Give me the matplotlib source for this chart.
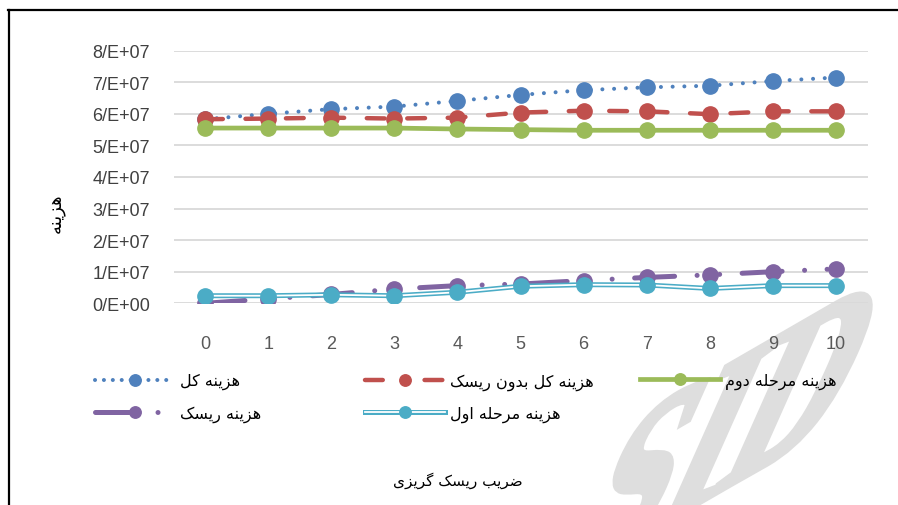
import numpy as np
import matplotlib

matplotlib.use("Agg")
import matplotlib.pyplot as plt  # noqa: E402
from matplotlib.lines import Line2D  # noqa: E402
from matplotlib.legend_handler import HandlerTuple  # noqa: E402
from matplotlib.textpath import TextPath  # noqa: E402
from matplotlib.patches import PathPatch  # noqa: E402
from matplotlib.font_manager import FontProperties  # noqa: E402
from matplotlib.transforms import Affine2D  # noqa: E402
from matplotlib.ticker import FuncFormatter  # noqa: E402

# risk aversion coefficient
x_vals = [0, 1, 2, 3, 4, 5, 6, 7, 8, 9, 10]
total_cost = [5.83e7, 6.00e7, 6.15e7, 6.23e7, 6.41e7, 6.60e7, 6.75e7, 6.84e7, 6.89e7, 7.04e7, 7.15e7]
total_no_risk = [5.83e7, 5.85e7, 5.88e7, 5.85e7, 5.88e7, 6.04e7, 6.10e7, 6.08e7, 5.99e7, 6.08e7, 6.08e7]
stage2_cost = [5.55e7, 5.55e7, 5.55e7, 5.55e7, 5.52e7, 5.50e7, 5.48e7, 5.48e7, 5.48e7, 5.48e7, 5.48e7]
risk_cost = [0.00e7, 0.14e7, 0.28e7, 0.45e7, 0.56e7, 0.61e7, 0.72e7, 0.82e7, 0.90e7, 1.00e7, 1.09e7]
stage1_cost = [0.24e7, 0.24e7, 0.27e7, 0.24e7, 0.35e7, 0.54e7, 0.59e7, 0.58e7, 0.47e7, 0.56e7, 0.56e7]

lbl_total = "هزینه کل"
lbl_no_risk = "هزینه کل بدون ریسک"
lbl_stage2 = "هزینه مرحله دوم"
lbl_risk = "هزینه ریسک"
lbl_stage1 = "هزینه مرحله اول"
y_title = "هزینه"
x_title = "ضریب ریسک گریزی"

COLORS = {
    "total": "#4F81BD",
    "no_risk": "#C0504D",
    "stage2": "#9BBB59",
    "risk": "#8064A2",
    "stage1": "#4BACC6",
}

# no bidi/shaping in matplotlib: map letters to presentation forms by hand
DUAL = {
    "ب": (0xFE8F, 0xFE90, 0xFE91, 0xFE92),
    "ح": (0xFEA1, 0xFEA2, 0xFEA3, 0xFEA4),
    "س": (0xFEB1, 0xFEB2, 0xFEB3, 0xFEB4),
    "ض": (0xFEBD, 0xFEBE, 0xFEBF, 0xFEC0),
    "ل": (0xFEDD, 0xFEDE, 0xFEDF, 0xFEE0),
    "م": (0xFEE1, 0xFEE2, 0xFEE3, 0xFEE4),
    "ن": (0xFEE5, 0xFEE6, 0xFEE7, 0xFEE8),
    "ه": (0xFEE9, 0xFEEA, 0xFEEB, 0xFEEC),
    "ک": (0xFB8E, 0xFB8F, 0xFB90, 0xFB91),
    "گ": (0xFB92, 0xFB93, 0xFB94, 0xFB95),
    "ی": (0xFBFC, 0xFBFD, 0xFBFE, 0xFBFF),
}
RIGHT = {
    "ا": (0xFE8D, 0xFE8E),
    "د": (0xFEA9, 0xFEAA),
    "ر": (0xFEAD, 0xFEAE),
    "ز": (0xFEAF, 0xFEB0),
    "و": (0xFEED, 0xFEEE),
}


def fa(text):
    out = []
    for i, ch in enumerate(text):
        prev = text[i - 1] if i > 0 else ""
        nxt = text[i + 1] if i + 1 < len(text) else ""
        j_prev = prev in DUAL
        if ch in DUAL:
            j_next = nxt in DUAL or nxt in RIGHT
            idx = (3 if j_next else 1) if j_prev else (2 if j_next else 0)
            out.append(chr(DUAL[ch][idx]))
        elif ch in RIGHT:
            out.append(chr(RIGHT[ch][1 if j_prev else 0]))
        else:
            out.append(ch)
    return "".join(reversed(out))


plt.rcParams["font.family"] = ["Liberation Sans", "DejaVu Sans"]
AR = {"family": "DejaVu Sans"}

W, H = 898, 506
fig = plt.figure(figsize=(W / 100, H / 100), dpi=100)
ax = fig.add_axes([173.5 / W, 1 - 304.3 / H, 694 / W, 252.6 / H])
ax.patch.set_visible(False)

DOT = (0, (0.01, 2.9))
DASH = (0, (4.0, 5.1))
LDDD = (0, (8, 4.5, 0.01, 4.5, 0.01, 4.5))

ax.plot(x_vals, total_cost, color=COLORS["total"], lw=2.9, ls=DOT,
        dash_capstyle="round", marker="o", ms=11, zorder=3)
ax.plot(x_vals, total_no_risk, color=COLORS["no_risk"], lw=3.2, ls=DASH,
        dash_capstyle="round", marker="o", ms=11, zorder=4)
ax.plot(x_vals, stage2_cost, color=COLORS["stage2"], lw=3.4, marker="o", ms=11, zorder=5)
ax.plot(x_vals, risk_cost, color=COLORS["risk"], lw=3.6, ls=LDDD, dash_capstyle="round",
        marker="o", ms=11, zorder=6)
ax.plot(x_vals, stage1_cost, color=COLORS["stage1"], lw=3.6, zorder=7)
ax.plot(x_vals, stage1_cost, color="white", lw=1.3, zorder=7)
ax.plot(x_vals, stage1_cost, color=COLORS["stage1"], ls="none", marker="o", ms=11, zorder=7)

ax.set_xlim(-0.5, 10.5)
ax.set_ylim(0, 8e7)
ax.set_xticks(x_vals)
ax.set_yticks([i * 1e7 for i in range(9)])
ax.yaxis.set_major_formatter(FuncFormatter(
    lambda v, _: f"{int(round(v / 1e7))}/E+07" if v > 0 else "0/E+00"))
ax.grid(axis="y", color="#d9d9d9", lw=1.3)
ax.set_axisbelow(True)
for s in ax.spines.values():
    s.set_visible(False)
ax.tick_params(axis="both", length=0)
ax.tick_params(axis="y", labelsize=13, labelcolor="#404040", pad=17)
ax.tick_params(axis="x", labelsize=13, labelcolor="#595959", pad=23)

fig.text(56 / W, 1 - 213 / H, fa(y_title), rotation=90, ha="center", va="center",
         fontsize=13, **AR)
fig.text(458 / W, 1 - 481 / H, fa(x_title), ha="center", va="center", fontsize=11, **AR)

# legend handles
h_total = Line2D([], [], color=COLORS["total"], lw=2.9, ls=(0, (0.01, 2.2)),
                 dash_capstyle="round", marker="o", ms=11)
h_no_risk = Line2D([], [], color=COLORS["no_risk"], lw=3.2, ls=(0, (4.0, 9.4)),
                   dash_capstyle="round", marker="o", ms=11)
h_stage2 = Line2D([], [], color=COLORS["stage2"], lw=3.4, marker="o", ms=11)
h_risk = Line2D([], [], color=COLORS["risk"], lw=3.6, ls=LDDD,
                dash_capstyle="round", marker="o", ms=11)
h_stage1 = (Line2D([], [], color=COLORS["stage1"], lw=3.6),
            Line2D([], [], color="white", lw=1.3),
            Line2D([], [], color=COLORS["stage1"], ls="none", marker="o", ms=11))

leg_kw = dict(frameon=False, prop={"family": "DejaVu Sans", "size": 11.5},
              handlelength=5.0, handletextpad=0.35, labelspacing=1.0,
              borderpad=0, borderaxespad=0, markerscale=0.75,
              handler_map={tuple: HandlerTuple(ndivide=1)})
fig.legend([h_total, h_risk], [fa(lbl_total), fa(lbl_risk)], loc="upper left",
           bbox_to_anchor=(95 / W, 1 - 374 / H), **leg_kw)
fig.legend([h_no_risk, h_stage1], [fa(lbl_no_risk), fa(lbl_stage1)], loc="upper left",
           bbox_to_anchor=(365 / W, 1 - 374 / H), **leg_kw)
fig.legend([h_stage2], [fa(lbl_stage2)], loc="upper left",
           bbox_to_anchor=(640 / W, 1 - 374 / H), **leg_kw)

# outer chart border (partly cropped)
fig.add_artist(Line2D([9 / W, 9 / W], [0, 1 - 10.5 / H], transform=fig.transFigure,
                      color="black", lw=1.6))
fig.add_artist(Line2D([8 / W, 1], [1 - 10.5 / H, 1 - 10.5 / H], transform=fig.transFigure,
                      color="black", lw=1.6))

# faint watermark
tp = TextPath((0, 0), "SID", size=1, prop=FontProperties(family="Liberation Serif", weight="bold"))
a, h = 185, 270
b1, b2 = np.deg2rad(30), np.deg2rad(66)
mat = np.array([[a * np.cos(b1), h * np.cos(b2), 560],
                [a * np.sin(b1), h * np.sin(b2), -78],
                [0, 0, 1]])
fig.add_artist(PathPatch(tp, transform=Affine2D(mat), facecolor="#dedede",
                         edgecolor="#dedede", lw=4, zorder=-1))

fig.savefig("out.png", dpi=100)
